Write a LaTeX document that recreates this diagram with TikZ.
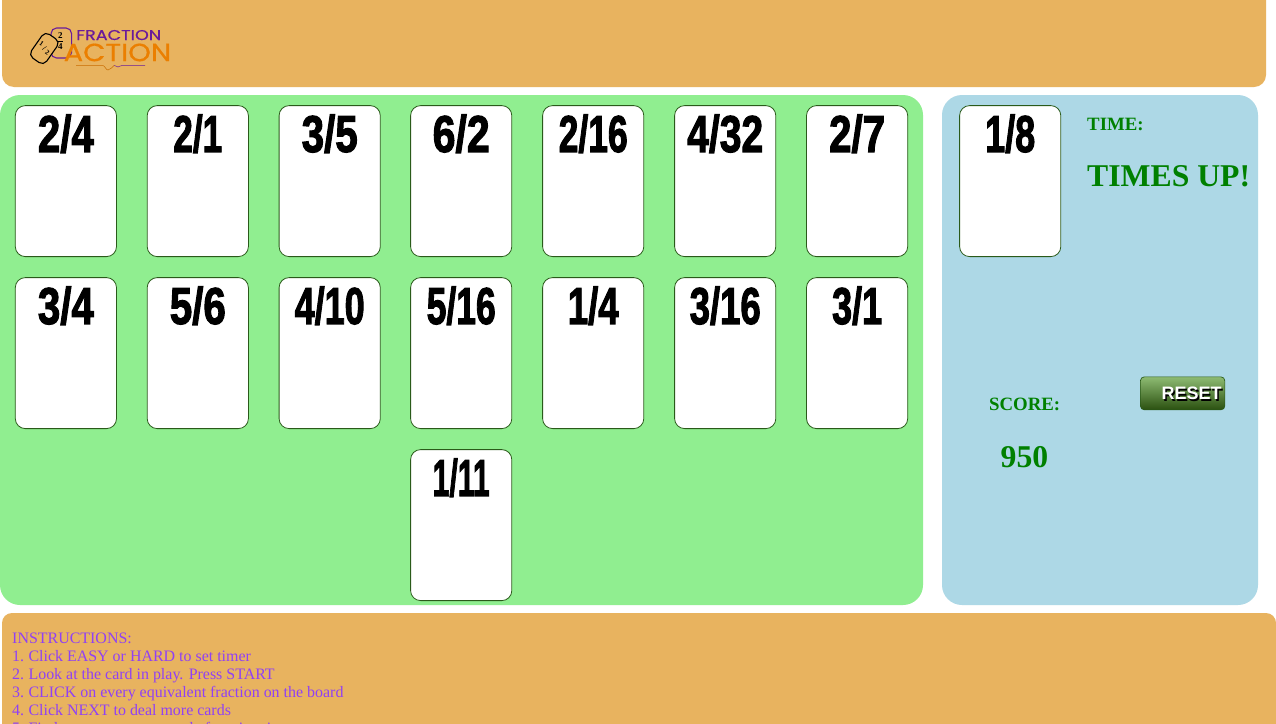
\documentclass[tikz,border=0pt]{standalone}
\usepackage{fontspec}
\setmainfont{Liberation Serif}
\newfontfamily\cardboldfont[FakeBold=2.4]{Liberation Sans Bold}
\newfontfamily\logofont{Poppins}
\newfontfamily\logoheavy[FakeBold=0.6]{Poppins}
\newfontfamily\btnfont{Liberation Sans}
\definecolor{bar}{HTML}{E8B35F}
\definecolor{board}{HTML}{90EE90}
\definecolor{side}{HTML}{ADD8E6}
\definecolor{cardline}{HTML}{2A5A1A}
\definecolor{instr}{HTML}{9040F5}
\definecolor{scoregreen}{HTML}{008000}
\definecolor{logop}{HTML}{6A1B9A}
\definecolor{logoo}{HTML}{EB7F00}
\definecolor{btntop}{HTML}{8DBB72}
\definecolor{btnbot}{HTML}{2A5010}
\tikzset{
 cardbox/.style={draw=cardline,line width=.8pt,fill=white,rounded corners=10pt,minimum width=101.2pt,minimum height=151pt,inner sep=0,anchor=north west},
 cardtext/.style={font=\cardboldfont\fontsize{50}{50}\selectfont,text=black,inner sep=0,anchor=center},
 infolabel/.style={text=scoregreen,font=\bfseries\fontsize{18.8}{19}\selectfont,inner sep=0,anchor=base west},
 biginfo/.style={text=scoregreen,font=\bfseries\fontsize{31.7}{32}\selectfont,inner sep=0,anchor=base west},
 instrline/.style={text=instr,font=\fontsize{15.95}{16}\selectfont,inner sep=0,anchor=base west},
 logodigit/.style={font=\bfseries\fontsize{9}{9}\selectfont,inner sep=0},
 logocard/.style={line width=1.1pt,rounded corners=5.5pt,inner sep=0}
}
\newcommand{\card}[5]{%
 \node[cardbox] (#1) at (#2,#3) {};
 \node[cardtext] (#1t) at ([yshift=-28.5pt]#1.north) {\resizebox{#5pt}{37.5pt}{#4}};
}
\begin{document}
\begin{tikzpicture}[x=1pt,y=-1pt]
\useasboundingbox (0,0) rectangle (1276,723);
\fill[white] (0,0) rectangle (1276,723);
% panels
\fill[bar,rounded corners=12pt] (2,-20) rectangle (1266,87);
\fill[board,rounded corners=20pt] (0,95) rectangle (923,605);
\fill[side,rounded corners=20pt] (942,95) rectangle (1258,605);
\begin{scope}
\clip (0,0) rectangle (1276,723);
\fill[bar,rounded corners=10pt] (2,613) rectangle (1276,760);
\end{scope}
% logo
\node[logocard,draw=logop,minimum width=20.5pt,minimum height=30pt] (lcard2) at (61.3,43) {};
\node[logodigit] (l2a) at (60.3,36) {2};
\node[logodigit] (l2b) at (60.3,47) {4};
\coordinate (lb1) at (57.5,41.5);
\coordinate (lb2) at (63,41.5);
\draw[black,line width=.5pt] (lb1) -- (lb2);
\node[logocard,draw=black,fill=bar,minimum width=18.5pt,minimum height=29pt,rotate=-35] (lcard1) at (44.3,48.5) {};
\node[logodigit,font=\bfseries\fontsize{7}{7}\selectfont,rotate=-35] (l1a) at (41.7,43.5) {1};
\node[logodigit,font=\bfseries\fontsize{7}{7}\selectfont,rotate=-35] (l1b) at (47.3,52.3) {2};
\coordinate (lc1) at (42.2,49.5);
\coordinate (lc2) at (46.6,46.4);
\draw[black,line width=.4pt] (lc1) -- (lc2);
\node[text=logop,inner sep=0,anchor=south west] (lf) at (76,40.3) {\resizebox{85pt}{10pt}{\logoheavy FRACTION}};
\node[text=logoo,inner sep=0,anchor=south west] (la) at (63.5,61.5) {\resizebox{107.5pt}{17.5pt}{\logoheavy ACTION}};
\coordinate (u1) at (76,65.5);
\coordinate (u2) at (145,65.5);
\draw[logoo!85!black,line width=.5pt] (u1) -- (103,65.5) .. controls (105,66) and (106,70) .. (108,70) .. controls (111,70) and (112,66.5) .. (114,65.5);
\draw[logop,line width=.5pt] (114,65.5) .. controls (116,65) and (116,67) .. (118,67) .. controls (120,67) and (119,65.5) .. (122,65.5) -- (u2);
% cards
\card{a1}{14.9}{105.2}{2/4}{56}
\card{a2}{146.8}{105.2}{2/1}{49}
\card{a3}{278.7}{105.2}{3/5}{56}
\card{a4}{410.2}{105.2}{6/2}{57}
\card{a5}{542.2}{105.2}{2/16}{69}
\card{a6}{674.2}{105.2}{4/32}{76}
\card{a7}{806.1}{105.2}{2/7}{56}
\card{b1}{14.9}{277.2}{3/4}{56}
\card{b2}{146.8}{277.2}{5/6}{56}
\card{b3}{278.7}{277.2}{4/10}{70}
\card{b4}{410.2}{277.2}{5/16}{69}
\card{b5}{542.2}{277.2}{1/4}{51}
\card{b6}{674.2}{277.2}{3/16}{71}
\card{b7}{806.1}{277.2}{3/1}{50}
\card{c4}{410.2}{449.2}{1/11}{57}
\card{play}{959.2}{105.2}{1/8}{50}
% side info
\node[infolabel] (time) at (1087,130.8) {TIME:};
\node[biginfo] (up) at (1087,186) {TIMES UP!};
\node[infolabel] (score) at (989,410.8) {SCORE:};
\node[biginfo] (val) at (1000.5,467) {950};
% reset button
\node[draw=cardline,line width=.7pt,rounded corners=4pt,minimum width=84.5pt,minimum height=33pt,inner sep=0,top color=btntop,bottom color=btnbot,anchor=north west] (reset) at (1140,376.5) {};
\node[font=\btnfont\bfseries\fontsize{18}{18}\selectfont,text=black,inner sep=0] (resets) at (1193,395) {RESET};
\node[font=\btnfont\bfseries\fontsize{18}{18}\selectfont,text=white,inner sep=0] (resett) at (1191.5,393.5) {RESET};
% instructions
\begin{scope}
\clip (0,0) rectangle (1276,723);
\node[instrline] (i0) at (12,643) {INSTRUCTIONS:};
\node[instrline] (i1) at (12,661) {1.\kern 4.4pt Click EASY or HARD to set timer};
\node[instrline] (i2) at (12,679) {2.\kern 4.4pt Look at the card in play. Press START};
\node[instrline] (i3) at (12,697) {3.\kern 4.4pt CLICK on every equivalent fraction on the board};
\node[instrline] (i4) at (12,715) {4.\kern 4.4pt Click NEXT to deal more cards};
\node[instrline] (i5) at (12,733) {5.\kern 4.4pt Find as many as you can before time is up};
\end{scope}
\end{tikzpicture}
\end{document}
